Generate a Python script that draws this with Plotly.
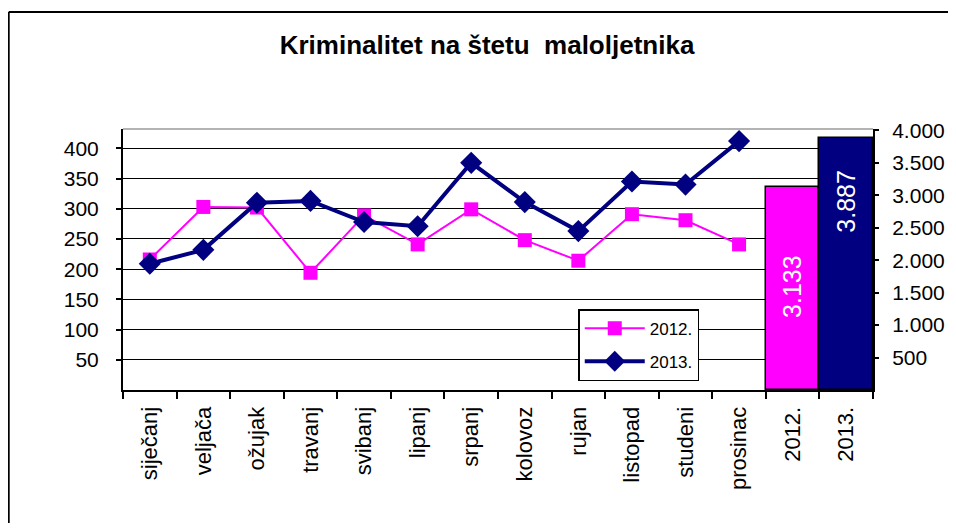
import plotly.graph_objects as go

months = ["siječanj", "veljača", "ožujak", "travanj", "svibanj", "lipanj",
          "srpanj", "kolovoz", "rujan", "listopad", "studeni", "prosinac"]
years = ["2012.", "2013."]
s2012 = [216, 303, 302, 194, 289, 241, 299, 248, 214, 291, 281, 241]
s2013 = [209, 232, 310, 313, 278, 271, 376, 311, 263, 345, 340, 412]
totals = [3133, 3887]
left_ticks = [50, 100, 150, 200, 250, 300, 350, 400]
right_ticks = [500, 1000, 1500, 2000, 2500, 3000, 3500, 4000]


def fmt(v):
    return f"{v:,}".replace(",", ".")


FONT = "Liberation Sans, Arial, sans-serif"
categories = months + years

fig = go.Figure()

fig.add_trace(go.Bar(
    x=years, y=totals, yaxis="y2", width=1,
    marker=dict(color=["#FF00FF", "#000080"], line=dict(color="black", width=1.5)),
    showlegend=False, hoverinfo="skip",
))

fig.add_trace(go.Scatter(
    x=months, y=s2012, name="2012.", mode="lines+markers", legendgroup="a",
    line=dict(color="#FF00FF", width=2),
    marker=dict(symbol="square", size=14, color="#FF00FF"),
))
fig.add_trace(go.Scatter(
    x=months, y=s2013, name="2013.", mode="lines+markers", legendgroup="b",
    line=dict(color="#000080", width=4),
    marker=dict(symbol="diamond", size=17, color="#000080"),
))

# value labels inside the bars
label_frac = [0.51, 0.747]
for yr, v, f in zip(years, totals, label_frac):
    fig.add_annotation(
        x=categories.index(yr), y=v * f, xref="x", yref="y2", text=fmt(v),
        textangle=-90, showarrow=False,
        font=dict(family=FONT, size=25, color="white"),
    )

# outer chart frame (left and top edges visible) and plot-area top border
fig.add_shape(type="line", xref="paper", yref="paper",
              x0=-0.1524, x1=-0.1524, y0=-0.6, y1=1.448,
              line=dict(color="black", width=2))
fig.add_shape(type="line", xref="paper", yref="paper",
              x0=-0.1524, x1=1.2, y0=1.448, y1=1.448,
              line=dict(color="black", width=2))
fig.add_shape(type="line", xref="paper", yref="paper",
              x0=0, x1=1, y0=1, y1=1, line=dict(color="#9a9a9a", width=1.5))

fig.update_layout(
    width=940, height=515,
    margin=dict(l=115, r=75, t=121, b=133, autoexpand=False),
    paper_bgcolor="white", plot_bgcolor="white",
    font=dict(family=FONT, color="black"),
    title=dict(text="<b>Kriminalitet na štetu\u00a0 maloljetnika</b>",
               x=0.5096, xanchor="center", y=0.928, yanchor="middle",
               font=dict(family=FONT, size=26, color="black")),
    bargap=0, barmode="overlay",
    xaxis=dict(
        type="category", categoryorder="array", categoryarray=categories,
        range=[-0.5, len(categories) - 0.5], automargin=False,
        tickangle=-90, tickson="boundaries", ticks="outside", ticklen=7,
        tickcolor="black", tickwidth=1.5,
        showline=True, linecolor="black", linewidth=2,
        showgrid=False, tickfont=dict(family=FONT, size=22),
        ticklabelstandoff=6,
    ),
    yaxis=dict(
        range=[0, 432], tickvals=left_ticks, ticktext=[str(t) for t in left_ticks],
        automargin=False,
        showgrid=True, gridcolor="black", gridwidth=1.3,
        showline=True, linecolor="black", linewidth=2,
        ticks="outside", ticklen=5, tickcolor="black", tickwidth=1.5,
        zeroline=False, tickfont=dict(family=FONT, size=21),
        ticklabelstandoff=13,
    ),
    yaxis2=dict(
        overlaying="y", side="right", range=[0, 4020], automargin=False,
        tickvals=right_ticks, ticktext=[fmt(t) for t in right_ticks],
        showgrid=False, showline=True, linecolor="black", linewidth=2,
        ticks="outside", ticklen=4, tickcolor="black", tickwidth=1.5,
        zeroline=False, tickfont=dict(family=FONT, size=21),
        ticklabelstandoff=9,
    ),
    legend=dict(
        x=0.607, y=0.310, xanchor="left", yanchor="top",
        bgcolor="white", bordercolor="black", borderwidth=1.5,
        font=dict(family=FONT, size=17), itemwidth=60, tracegroupgap=8,
    ),
    showlegend=True,
)

fig.write_html("out.html")
